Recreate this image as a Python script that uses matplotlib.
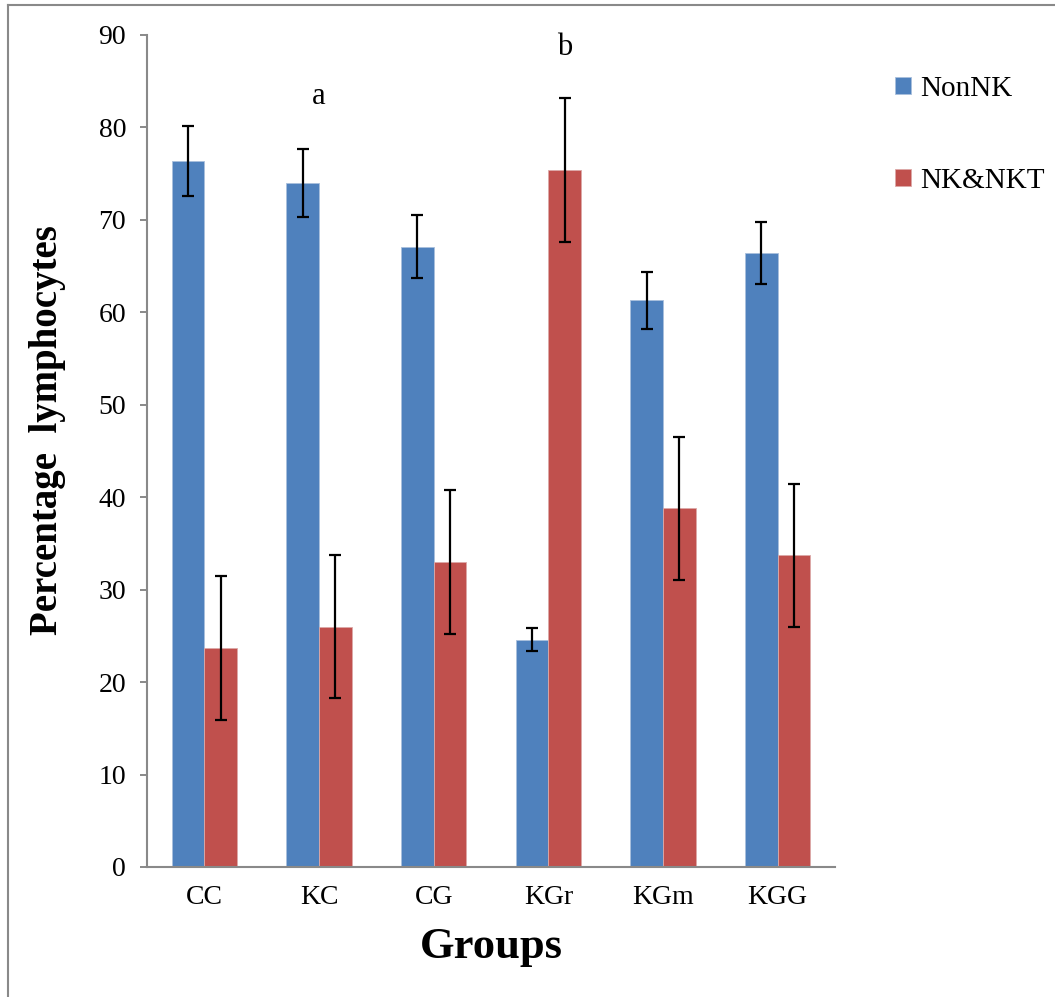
import matplotlib
matplotlib.use("Agg")
import matplotlib.pyplot as plt
import numpy as np
from matplotlib.lines import Line2D

groups = ["CC", "KC", "CG", "KGr", "KGm", "KGG"]
non_nk = [76.4, 74.0, 67.1, 24.6, 61.3, 66.4]
non_nk_err = [3.8, 3.7, 3.4, 1.25, 3.1, 3.35]
nk_nkt = [23.7, 26.0, 33.0, 75.4, 38.8, 33.7]
nk_nkt_err = [7.75, 7.75, 7.75, 7.75, 7.75, 7.7]
letters = [("a", 1.5, 83.3), ("b", 3.64, 88.6)]

BLUE = "#4F81BD"
RED = "#C0504D"
GREY = "#898989"

plt.rcParams["font.family"] = ["Liberation Serif", "DejaVu Serif"]

fig = plt.figure(figsize=(10.55, 9.97), dpi=100)
ax = fig.add_axes([147 / 1055, 1 - 867 / 997, (835 - 147) / 1055, (867 - 35) / 997])

x = np.arange(len(groups)) + 0.5
w = 0.285
err_kw = dict(ecolor="black", elinewidth=1.6, capsize=4.5, capthick=1.6)
ax.bar(x - w / 2, non_nk, w, color=BLUE, yerr=non_nk_err, error_kw=err_kw,
       label="NonNK", edgecolor="#a9bfdc", linewidth=0.6)
ax.bar(x + w / 2, nk_nkt, w, color=RED, yerr=nk_nkt_err, error_kw=err_kw,
       label="NK&NKT", edgecolor="#dca9a8", linewidth=0.6)

for txt, xp, yp in letters:
    ax.text(xp, yp, txt, ha="center", va="center", fontsize=22)

ax.set_xlim(0, 6)
ax.set_ylim(0, 90)
ax.set_yticks(range(0, 91, 10))
ax.set_xticks(x)
ax.set_xticklabels(groups)
ax.tick_params(axis="y", direction="out", length=5, width=1.4, color=GREY,
               labelsize=20, pad=10)
ax.tick_params(axis="x", length=0, labelsize=20, pad=13)
for s in ["top", "right"]:
    ax.spines[s].set_visible(False)
for s in ["left", "bottom"]:
    ax.spines[s].set_color(GREY)
    ax.spines[s].set_linewidth(1.5)

fig.text(48 / 1055, 1 - 430 / 997, "Percentage  lymphocytes", rotation=90,
         ha="center", va="center", fontsize=28, fontweight="bold")
fig.text(491 / 1055, 1 - 947 / 997, "Groups", ha="center", va="center",
         fontsize=32, fontweight="bold")

leg = fig.legend(loc="upper left", bbox_to_anchor=(895 / 1055, 1 - 76 / 997),
                 frameon=False, fontsize=21, handlelength=0.55, handleheight=0.55,
                 handletextpad=0.3, labelspacing=2.25, borderpad=0,
                 borderaxespad=0)

# thin frame on the left and top edges
fig.add_artist(Line2D([7.5 / 1055, 7.5 / 1055], [0, 1 - 5 / 997], color=GREY, lw=1.5))
fig.add_artist(Line2D([7.5 / 1055, 1], [1 - 5 / 997, 1 - 5 / 997], color=GREY, lw=1.5))

fig.savefig("out.png", dpi=100)
